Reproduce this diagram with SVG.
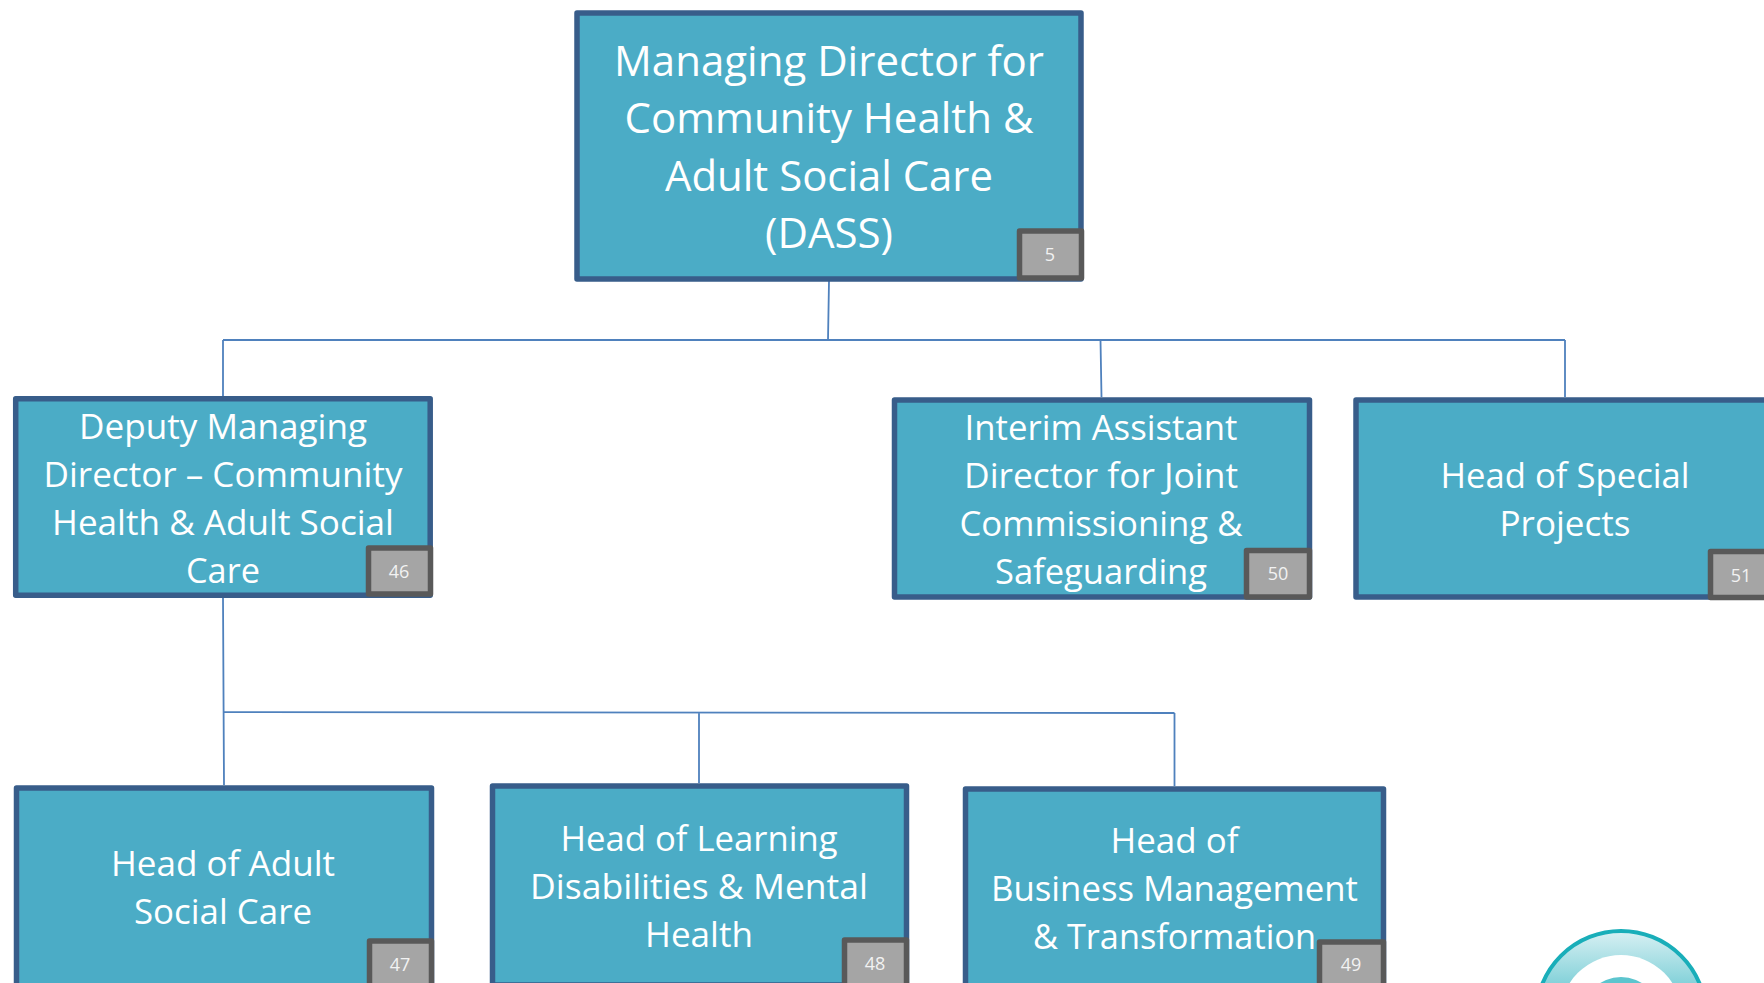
<svg xmlns="http://www.w3.org/2000/svg" width="1764" height="983" viewBox="0 0 1764 983">
<style>
.box{fill:#4bacc6;stroke:#385d8a;stroke-width:5.500;stroke-linejoin:round}
.tag{fill:#a5a5a5;stroke:#595959;stroke-width:5.500;stroke-linejoin:round}
.c{fill:none;stroke:#4f81bd;stroke-width:1.800}
text{font-family:"Open Sans","Noto Sans","Liberation Sans",sans-serif;fill:#fff;text-anchor:middle}
.t1{font-size:42px}
.t2{font-size:35px}
.b{font-size:18px;fill:#f2f2f2}
</style>
<defs><linearGradient id="lg" x1="0" y1="0" x2="0" y2="1"><stop offset="0" stop-color="#d8f0f3"/><stop offset="0.4" stop-color="#6cc9d2"/></linearGradient></defs>
<rect width="1764" height="983" fill="#fff"/>
<g id="connectors">
<path class="c" d="M829 281L828 340M223 340H1565M223 340V396M1100.500 340L1101.500 397M1565 340V397"/>
<path class="c" d="M223 598L224 785M224 712L1174.500 713M699 712V783M1174.500 713V786"/>
</g>
<g id="n5"><rect class="box" x="577" y="13" width="504" height="266"/>
<text class="t1" x="829" y="76" textLength="430" lengthAdjust="spacingAndGlyphs">Managing Director for</text><text class="t1" x="829" y="133" textLength="409" lengthAdjust="spacingAndGlyphs">Community Health &amp;</text><text class="t1" x="829" y="191" textLength="328" lengthAdjust="spacingAndGlyphs">Adult Social Care</text><text class="t1" x="829" y="247.500" textLength="128" lengthAdjust="spacingAndGlyphs">(DASS)</text>
<rect class="tag" x="1019.500" y="231" width="62" height="47"/><text class="b" x="1050" y="261">5</text></g>
<g id="n46"><rect class="box" x="15.700" y="398.700" width="414.500" height="196.600"/>
<text class="t2" x="223" y="439" textLength="288" lengthAdjust="spacingAndGlyphs">Deputy Managing</text><text class="t2" x="223" y="487" textLength="359" lengthAdjust="spacingAndGlyphs">Director – Community</text><text class="t2" x="223" y="535" textLength="342" lengthAdjust="spacingAndGlyphs">Health &amp; Adult Social</text><text class="t2" x="223" y="583" textLength="74" lengthAdjust="spacingAndGlyphs">Care</text>
<rect class="tag" x="368.500" y="548" width="62" height="46"/><text class="b" x="399" y="578">46</text></g>
<g id="n50"><rect class="box" x="894.500" y="400" width="415" height="197"/>
<text class="t2" x="1101" y="440" textLength="273" lengthAdjust="spacingAndGlyphs">Interim Assistant</text><text class="t2" x="1101" y="488" textLength="274" lengthAdjust="spacingAndGlyphs">Director for Joint</text><text class="t2" x="1101" y="536" textLength="283" lengthAdjust="spacingAndGlyphs">Commissioning &amp;</text><text class="t2" x="1101" y="584" textLength="212" lengthAdjust="spacingAndGlyphs">Safeguarding</text>
<rect class="tag" x="1246.500" y="550.500" width="63" height="46.500"/><text class="b" x="1278" y="580">50</text></g>
<g id="n51"><rect class="box" x="1356" y="400" width="420" height="197"/>
<text class="t2" x="1565" y="488" textLength="249" lengthAdjust="spacingAndGlyphs">Head of Special</text><text class="t2" x="1565" y="536" textLength="131" lengthAdjust="spacingAndGlyphs">Projects</text>
<rect class="tag" x="1710.500" y="551.500" width="70" height="46"/><text class="b" x="1741" y="582">51</text></g>
<g id="n47"><rect class="box" x="16.500" y="788" width="415" height="215"/>
<text class="t2" x="223" y="876" textLength="224" lengthAdjust="spacingAndGlyphs">Head of Adult</text><text class="t2" x="223" y="924" textLength="178" lengthAdjust="spacingAndGlyphs">Social Care</text>
<rect class="tag" x="369.500" y="941" width="62" height="47"/><text class="b" x="400" y="971">47</text></g>
<g id="n48"><rect class="box" x="492.500" y="786" width="414" height="199"/>
<text class="t2" x="699" y="851" textLength="277" lengthAdjust="spacingAndGlyphs">Head of Learning</text><text class="t2" x="699" y="899" textLength="338" lengthAdjust="spacingAndGlyphs">Disabilities &amp; Mental</text><text class="t2" x="699" y="947" textLength="108" lengthAdjust="spacingAndGlyphs">Health</text>
<rect class="tag" x="844.500" y="940" width="62" height="47"/><text class="b" x="875" y="970">48</text></g>
<g id="n49"><rect class="box" x="965.500" y="789" width="418" height="215"/>
<text class="t2" x="1174.500" y="853" textLength="128" lengthAdjust="spacingAndGlyphs">Head of</text><text class="t2" x="1174.500" y="901" textLength="367" lengthAdjust="spacingAndGlyphs">Business Management</text><text class="t2" x="1174.500" y="949" textLength="283" lengthAdjust="spacingAndGlyphs">&amp; Transformation</text>
<rect class="tag" x="1319.500" y="942" width="64" height="47"/><text class="b" x="1351" y="971">49</text></g>
<g id="logo">
<circle cx="1621" cy="1016" r="85" fill="url(#lg)" stroke="#19aeb9" stroke-width="4"/>
<circle cx="1621" cy="1016" r="61" fill="#fff"/>
<circle cx="1621" cy="1016" r="39" fill="#5cc5ce"/>
</g>
</svg>
